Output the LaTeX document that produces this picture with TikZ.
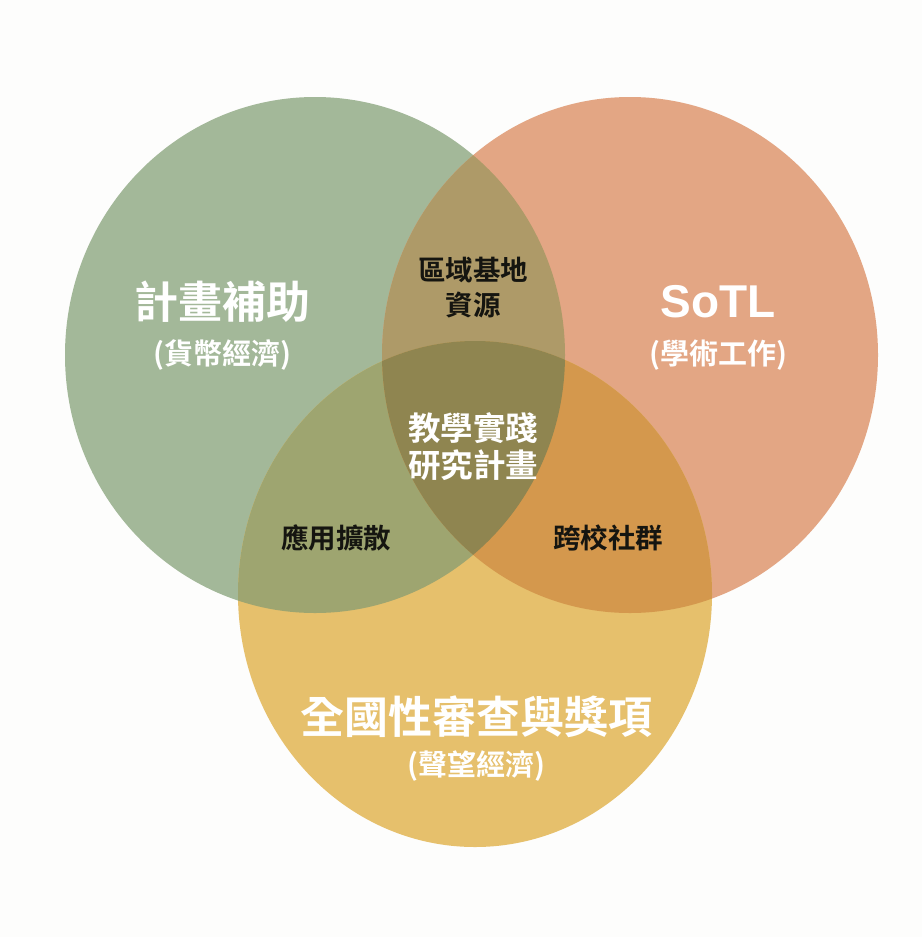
\documentclass[tikz,border=0pt]{standalone}
\usepackage{fontspec}
\setmainfont{Liberation Sans}
\newfontfamily\cjk{Noto Sans CJK TC}
\newfontfamily\cjkb{Noto Sans CJK TC Bold}
\definecolor{bgc}{HTML}{FDFDFC}
\definecolor{cg}{HTML}{A3B899}
\definecolor{co}{HTML}{E3A684}
\definecolor{cy}{HTML}{E6C06C}
\definecolor{cgo}{HTML}{AE9A68}
\definecolor{cgy}{HTML}{9EA570}
\definecolor{coy}{HTML}{D4984D}
\definecolor{cgoy}{HTML}{8F8550}
\definecolor{darktxt}{HTML}{151510}
\tikzset{
  bigw/.style={text=white, font=\cjkb\fontsize{44}{48}\selectfont, inner sep=0pt},
  subw/.style={text=white, font=\cjkb\fontsize{29}{32}\selectfont, inner sep=0pt},
  midw/.style={text=white, font=\cjkb\fontsize{32.5}{37}\selectfont, inner sep=0pt, align=center},
  darkl/.style={text=darktxt, font=\cjkb\fontsize{27.5}{35}\selectfont, inner sep=0pt, align=center},
}
\begin{document}
\begin{tikzpicture}[x=1pt,y=-1pt]
\fill[bgc] (0,0) rectangle (922,937);
% circles
\fill[cg] (315,355) ellipse [x radius=250, y radius=258];
\fill[co] (630,355) ellipse [x radius=248, y radius=258];
\fill[cy] (475,594) ellipse [x radius=237, y radius=253];
\begin{scope}
  \clip (315,355) ellipse [x radius=250, y radius=258];
  \fill[cgo] (630,355) ellipse [x radius=248, y radius=258];
\end{scope}
\begin{scope}
  \clip (315,355) ellipse [x radius=250, y radius=258];
  \fill[cgy] (475,594) ellipse [x radius=237, y radius=253];
\end{scope}
\begin{scope}
  \clip (630,355) ellipse [x radius=248, y radius=258];
  \fill[coy] (475,594) ellipse [x radius=237, y radius=253];
\end{scope}
\begin{scope}
  \clip (315,355) ellipse [x radius=250, y radius=258];
  \clip (630,355) ellipse [x radius=248, y radius=258];
  \fill[cgoy] (475,594) ellipse [x radius=237, y radius=253];
\end{scope}
% labels
\node[bigw] (plan) at (222,302) {計畫補助};
\node[subw] (planS) at (222,355) {(貨幣經濟)};
\node[text=white, font=\bfseries\fontsize{46}{50}\selectfont, inner sep=0pt] (sotl) at (718,302) {SoTL};
\node[subw] (sotlS) at (718,355) {(學術工作)};
\node[darkl] (region) at (473,288) {區域基地\\資源};
\node[midw] (core) at (473,447) {教學實踐\\研究計畫};
\node[darkl] (apply) at (336,538) {應用擴散};
\node[darkl] (cross) at (608,538) {跨校社群};
\node[bigw] (natl) at (476,717) {全國性審查與獎項};
\node[subw] (natlS) at (476,766) {(聲望經濟)};
\end{tikzpicture}
\end{document}
